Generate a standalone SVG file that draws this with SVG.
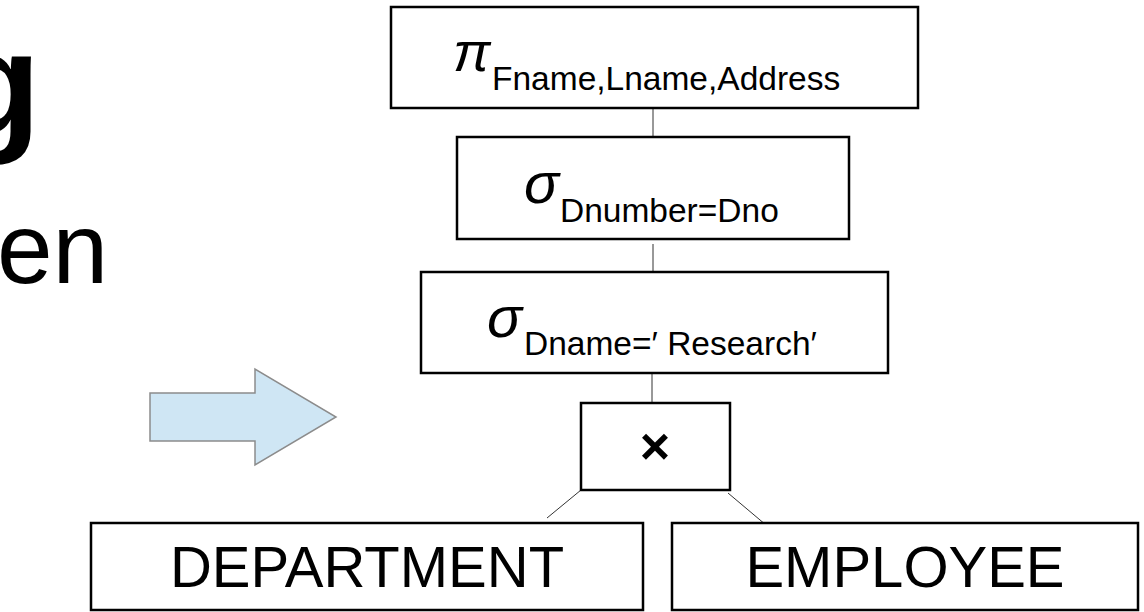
<svg xmlns="http://www.w3.org/2000/svg" width="1144" height="612" viewBox="0 0 1144 612">
<style>
.box{fill:#fff;stroke:#000;stroke-width:2.5}
.t{font-family:"Liberation Sans",Arial,sans-serif;fill:#000}
.g{font-family:"Liberation Sans",Arial,sans-serif;font-style:italic;fill:#000}
.sub{font-family:"Liberation Sans",Arial,sans-serif;font-size:33.5px;fill:#000}
.conn{stroke:#333;stroke-width:1;fill:none}
</style>
<rect width="1144" height="612" fill="#fff"/>
<text class="t" x="-49" y="134" font-size="147" font-weight="bold">g</text>
<text class="t" x="-3" y="283" font-size="100">en</text>
<polygon points="150,393 255,393 255,369 336,417 255,465 255,441 150,441" fill="#cfe6f4" stroke="#8c8c8c" stroke-width="1.5"/>
<g id="connectors">
<line class="conn" x1="653" y1="107" x2="653" y2="137"/>
<line class="conn" x1="653" y1="244" x2="653" y2="272"/>
<line class="conn" x1="652" y1="373" x2="652" y2="403"/>
<line class="conn" x1="581" y1="490" x2="547" y2="518"/>
<line class="conn" x1="728" y1="493" x2="766" y2="525"/>
</g>
<g id="project">
<rect class="box" x="391" y="7" width="527" height="101"/>
<text class="g" x="453" y="71" font-size="56">π</text>
<text class="sub" x="492" y="90">Fname,Lname,Address</text>
</g>
<g id="select1">
<rect class="box" x="457" y="137" width="392" height="102"/>
<text class="g" x="524" y="203" font-size="58">σ</text>
<text class="sub" x="560" y="222">Dnumber=Dno</text>
</g>
<g id="select2">
<rect class="box" x="421" y="272" width="467" height="101"/>
<text class="g" x="487" y="337" font-size="58">σ</text>
<text class="sub" x="524" y="355">Dname=′ Research′</text>
</g>
<g id="cross">
<rect class="box" x="581" y="403" width="149" height="87"/>
<text class="t" x="655" y="464" font-size="52" font-weight="bold" text-anchor="middle">×</text>
</g>
<g id="department">
<rect class="box" x="91" y="523" width="552" height="87"/>
<text class="t" x="367" y="587" font-size="58" text-anchor="middle">DEPARTMENT</text>
</g>
<g id="employee">
<rect class="box" x="672" y="523" width="466" height="87"/>
<text class="t" x="905" y="587" font-size="58" text-anchor="middle">EMPLOYEE</text>
</g>
</svg>
